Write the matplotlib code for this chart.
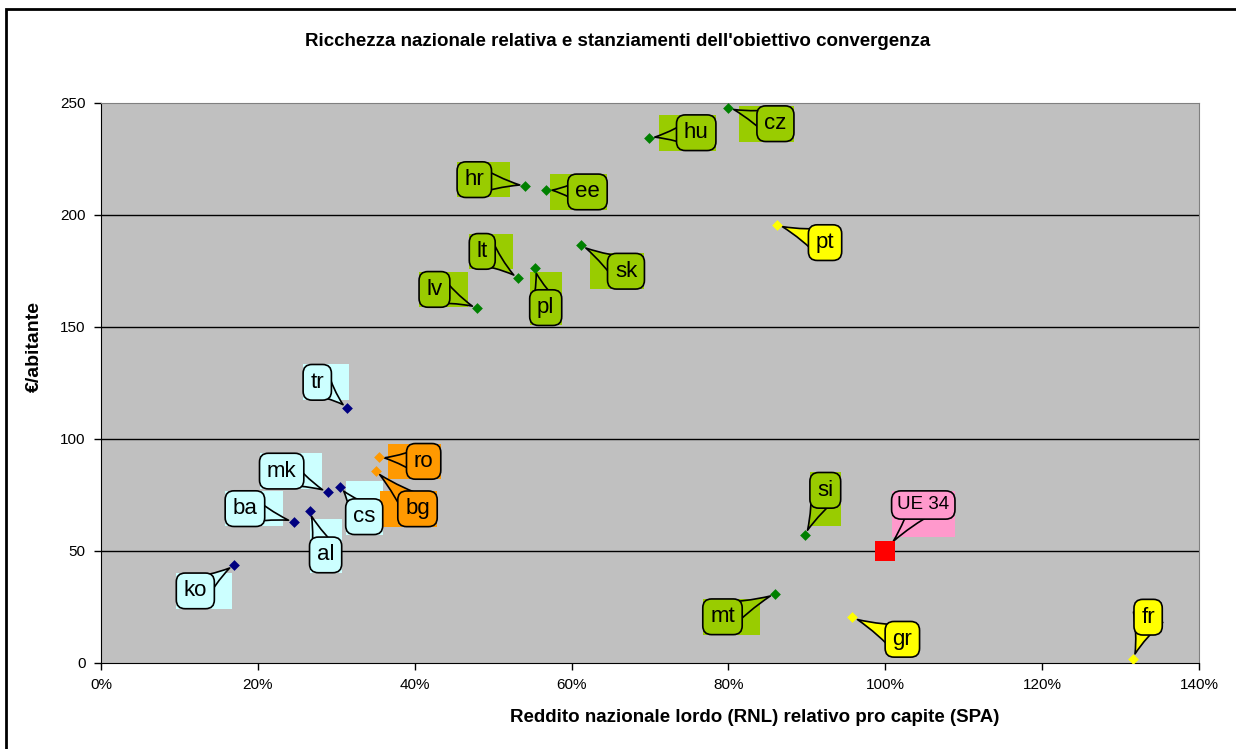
import matplotlib
matplotlib.use("Agg")
import matplotlib.pyplot as plt
from matplotlib.patches import Rectangle
from matplotlib.ticker import FuncFormatter

plt.rcParams['font.family'] = ['Liberation Sans', 'DejaVu Sans']

# data: RNL relativo (%), stanziamenti (EUR/abitante)
paesi = ['ko', 'ba', 'al', 'mk', 'cs', 'tr', 'bg', 'ro', 'lv', 'lt', 'pl', 'hr',
         'ee', 'sk', 'hu', 'cz', 'pt', 'si', 'mt', 'gr', 'fr']
rnl = [17.0, 24.6, 26.6, 28.9, 30.5, 31.4, 35.0, 35.4, 48.0, 53.2, 55.3, 54.1,
       56.8, 61.2, 69.9, 80.0, 86.2, 89.8, 86.0, 95.8, 131.6]
euro_ab = [43.8, 63.1, 67.9, 76.3, 78.7, 113.7, 85.8, 91.8, 158.3, 171.7, 176.5, 213.1,
           211.2, 186.5, 234.5, 247.9, 195.7, 57.0, 30.9, 20.4, 1.7]
gruppo = ['cand', 'cand', 'cand', 'cand', 'cand', 'cand', 'nuovi07', 'nuovi07',
          'nuovi', 'nuovi', 'nuovi', 'nuovi', 'nuovi', 'nuovi', 'nuovi', 'nuovi',
          'coes', 'nuovi', 'nuovi', 'coes', 'coes']
ue_label = 'UE 34'
ue_rnl = 100
ue_euro = 50

# styles per group: marker colour, bubble colour, background colour
stili = {
    'cand': ('#000080', '#CCFFFF', '#CCFFFF'),
    'nuovi07': ('#FF9900', '#FF9900', '#FF9900'),
    'nuovi': ('#008000', '#99CC00', '#99CC00'),
    'coes': ('#FFFF00', '#FFFF00', None),
}

# label offsets in pixels (dx, dy)
offset = {
    'ko': (-39, -26), 'ba': (-49, 13), 'al': (16, -44), 'mk': (-46, 21),
    'cs': (24, -30), 'tr': (-30, 26), 'bg': (42, -38), 'ro': (45, -4),
    'lv': (-43, 19), 'lt': (-36, 27), 'pl': (11, -40), 'hr': (-51, 6),
    'ee': (41, -2), 'sk': (45, -26), 'hu': (47, 5), 'cz': (47, -16),
    'pt': (48, -18), 'si': (20, 45), 'mt': (-53, -23), 'gr': (50, -22),
    'fr': (15, 42),
}

fig = plt.figure(figsize=(12.36, 7.49), dpi=100)
ax = fig.add_axes([101 / 1236, 1 - 663 / 749, 1098 / 1236, 560 / 749])
ax.set_facecolor('#C0C0C0')

for y in [50, 100, 150, 200]:
    ax.axhline(y, color='black', lw=1, zorder=1)

freccia = 'wedge,tail_width=1.4,shrink_factor=0.4'

annots = []
for p, x, y, g in zip(paesi, rnl, euro_ab, gruppo):
    mc, bc, bg = stili[g]
    ax.scatter(x, y, marker='D', s=30, color=mc, zorder=5, linewidths=0)
    a = ax.annotate(p, (x, y), xytext=offset[p], textcoords='offset pixels',
                    ha='center', va='center', fontsize=16, zorder=4,
                    bbox=dict(boxstyle='round,pad=0.33,rounding_size=0.4',
                              fc=bc, ec='black', lw=1.2),
                    arrowprops=dict(arrowstyle=freccia, fc=bc, ec='black', lw=1.2,
                                    shrinkA=0, shrinkB=4, patchA=None))
    annots.append((a, x, y, bg))

ax.scatter(ue_rnl, ue_euro, marker='s', s=220, color='#FF0000', zorder=5, linewidths=0)
a = ax.annotate(ue_label, (ue_rnl, ue_euro), xytext=(38, 46), textcoords='offset pixels',
                ha='center', va='center', fontsize=13.5, zorder=4,
                bbox=dict(boxstyle='round,pad=0.3,rounding_size=0.5',
                          fc='#FF99CC', ec='black', lw=1.2),
                arrowprops=dict(arrowstyle=freccia, fc='#FF99CC', ec='black', lw=1.2,
                                shrinkA=0, shrinkB=9, patchA=None))
annots.append((a, ue_rnl, ue_euro, '#FF99CC'))

ax.set_xlim(0, 140)
ax.set_ylim(0, 250)
ax.set_xticks(range(0, 141, 20))
ax.set_yticks(range(0, 251, 50))
ax.xaxis.set_major_formatter(FuncFormatter(lambda v, _: f'{v:.0f}%'))
ax.tick_params(direction='out', length=5, labelsize=11, width=1, pad=6)
for s in ['left', 'bottom']:
    ax.spines[s].set_color('black')
for s in ['top', 'right']:
    ax.spines[s].set_color('#808080')

fig.text(755 / 1236, 1 - 718 / 749, 'Reddito nazionale lordo (RNL) relativo pro capite (SPA)',
         ha='center', va='center', fontsize=13.5, fontweight='bold')
fig.text(34 / 1236, 1 - 347 / 749, '€/abitante', rotation=90,
         ha='center', va='center', fontsize=14, fontweight='bold')
fig.text(0.5, 1 - 42 / 749, "Ricchezza nazionale relativa e stanziamenti dell'obiettivo convergenza",
         ha='center', va='center', fontsize=13.5, fontweight='bold')

# coloured background rectangles behind the callouts
fig.canvas.draw()
inv = ax.transAxes.inverted()
ext = 18
for a, x, y, bg in annots:
    if bg is None:
        continue
    bb = a.get_bbox_patch().get_window_extent()
    px, py = ax.transData.transform((x, y))
    x0, x1, y0, y1 = bb.x0, bb.x1, bb.y0, bb.y1
    cx, cy = (x0 + x1) / 2, (y0 + y1) / 2
    if abs(px - cx) > abs(py - cy):
        if px > cx:
            x1 += ext
        else:
            x0 -= ext
    else:
        if py > cy:
            y1 += ext
        else:
            y0 -= ext
    (ax0, ay0), (ax1, ay1) = inv.transform([(x0, y0), (x1, y1)])
    ax.add_patch(Rectangle((ax0, ay0), ax1 - ax0, ay1 - ay0, transform=ax.transAxes,
                           fc=bg, ec='none', zorder=2, clip_on=False))

fig.add_artist(Rectangle((6 / 1236, -0.05), 1.1, 1.05 - 9 / 749,
                         transform=fig.transFigure, fill=False, ec='black', lw=2))

fig.savefig('out.png', dpi=100)
